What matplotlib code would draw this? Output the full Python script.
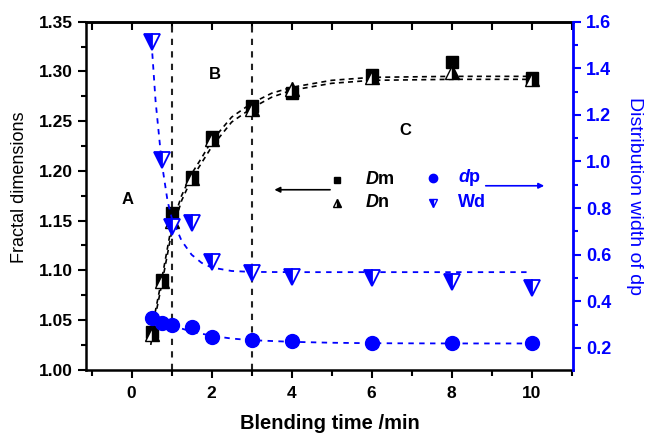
import matplotlib
matplotlib.use("Agg")
import matplotlib.pyplot as plt
from matplotlib.ticker import MultipleLocator, NullFormatter

plt.rcParams['font.family'] = ['Liberation Sans', 'DejaVu Sans']
plt.rcParams['mathtext.fontset'] = 'custom'
plt.rcParams['mathtext.it'] = 'Liberation Sans:italic:bold'
plt.rcParams['mathtext.rm'] = 'Liberation Sans:bold'

# measured points
t = [0.5, 0.75, 1, 1.5, 2, 3, 4, 6, 8, 10]
Dm = [1.038, 1.090, 1.158, 1.194, 1.234, 1.265, 1.278, 1.296, 1.309, 1.293]
Dn = [1.036, 1.089, 1.150, 1.193, 1.232, 1.262, 1.282, 1.294, 1.299, 1.292]
dp = [0.327, 0.306, 0.298, 0.291, 0.248, 0.234, 0.228, 0.220, 0.220, 0.220]
Wd = [1.514, 1.005, 0.720, 0.736, 0.570, 0.520, 0.506, 0.500, 0.483, 0.457]

# fitted curves
t_fit = [0.48, 0.6, 0.75, 1.0, 1.25, 1.5, 1.75, 2, 2.5, 3, 3.5, 4, 5, 6, 8, 10]
Dm_fit = [1.030, 1.060, 1.090, 1.145, 1.175, 1.197, 1.213, 1.230, 1.254, 1.268,
          1.278, 1.284, 1.291, 1.294, 1.295, 1.295]
Dn_fit = [1.025, 1.055, 1.085, 1.138, 1.170, 1.192, 1.208, 1.224, 1.249, 1.263,
          1.274, 1.281, 1.288, 1.291, 1.292, 1.292]
tw_fit = [0.5, 0.6, 0.75, 0.9, 1.0, 1.25, 1.5, 1.75, 2, 2.5, 3, 4, 6, 8, 10]
Wd_fit = [1.51, 1.26, 1.00, 0.83, 0.76, 0.66, 0.60, 0.565, 0.545, 0.530, 0.526,
          0.525, 0.525, 0.525, 0.525]
tp_fit = [0.5, 0.75, 1, 1.5, 2, 2.5, 3, 4, 5, 6, 8, 10]
dp_fit = [0.330, 0.310, 0.296, 0.270, 0.252, 0.240, 0.233, 0.226, 0.222, 0.220,
          0.219, 0.219]

blue = '#0000ff'

fig = plt.figure(figsize=(6.46, 4.33), dpi=100)
ax = fig.add_axes([0.133, 0.146, 0.754, 0.804])
ax2 = ax.twinx()

# region boundaries
for xv in [1, 3]:
    ax.axvline(xv, color='#222222', ls=(0, (3, 3)), lw=1.5, zorder=1)

ax.plot(t_fit, Dm_fit, color='black', ls=(0, (3, 2.5)), lw=1.2, zorder=2)
ax.plot(t_fit, Dn_fit, color='black', ls=(0, (3, 2.5)), lw=1.2, zorder=2)
ax.plot(t, Dm, 's', color='black', ms=9, zorder=3)
ax.plot(t, Dn, '^', color='black', ms=10, fillstyle='right',
        markerfacecoloralt='white', markeredgewidth=1.0, zorder=4)

ax2.plot(tw_fit, Wd_fit, color=blue, ls=(0, (3, 3)), lw=1.3, zorder=2)
ax2.plot(tp_fit, dp_fit, color=blue, ls=(0, (3, 3)), lw=1.3, zorder=2)
ax2.plot(t, Wd, 'v', color=blue, ms=11, fillstyle='left',
         markerfacecoloralt='white', markeredgewidth=1.3, zorder=3)
ax2.plot(t, dp, 'o', color=blue, ms=10, zorder=3)

ax.set_xlim(-1.14, 11.03)
ax.set_ylim(1.00, 1.35)
ax2.set_ylim(0.106, 1.6)

ax.xaxis.set_major_locator(MultipleLocator(2))
ax.xaxis.set_minor_locator(MultipleLocator(1))
ax.yaxis.set_major_locator(MultipleLocator(0.05))
ax.yaxis.set_minor_locator(MultipleLocator(0.025))
ax2.yaxis.set_major_locator(MultipleLocator(0.2))
ax2.yaxis.set_minor_locator(MultipleLocator(0.1))

ax.tick_params(axis='x', which='both', direction='out', labelsize=12.5, width=1.5)
ax.tick_params(axis='x', which='major', length=6, pad=6)
ax.tick_params(axis='x', which='minor', length=4)
ax.tick_params(axis='y', which='both', direction='out', labelsize=12.5, width=1.5)
ax.tick_params(axis='y', which='major', length=6)
ax.tick_params(axis='y', which='minor', length=3.5)
ax2.tick_params(axis='y', which='both', direction='out', colors=blue,
                labelsize=13, width=1.5)
ax2.tick_params(axis='y', which='major', length=6)
ax2.tick_params(axis='y', which='minor', length=3.5)
for lab in ax.get_xticklabels() + ax.get_yticklabels() + ax2.get_yticklabels():
    lab.set_fontweight('bold')

# top axis: ticks pointing inward, no labels
top = ax.secondary_xaxis('top')
top.xaxis.set_major_locator(MultipleLocator(1))
top.xaxis.set_major_formatter(NullFormatter())
top.tick_params(axis='x', direction='in', length=6, width=1.5)
top.spines['top'].set_linewidth(1.8)

for s in ['left', 'bottom', 'top']:
    ax.spines[s].set_linewidth(1.8)
ax.spines['right'].set_visible(False)
for s in ['left', 'bottom', 'top']:
    ax2.spines[s].set_visible(False)
ax2.spines['right'].set_color(blue)
ax2.spines['right'].set_linewidth(2.0)

ax.set_xlabel('Blending time /min', fontsize=14.5, fontweight='bold', labelpad=9)
ax.set_ylabel('Fractal dimensions', fontsize=13)
ax.yaxis.set_label_coords(-0.118, 0.523)
ax2.set_ylabel('Distribution width of dp', fontsize=14, color=blue,
               rotation=270, labelpad=23)

# region letters
ax.text(-0.1, 1.171, 'A', fontsize=12, fontweight='bold', ha='center', va='center')
ax.text(2.08, 1.297, 'B', fontsize=12, fontweight='bold', ha='center', va='center')
ax.text(6.83, 1.241, 'C', fontsize=12, fontweight='bold', ha='center', va='center')

# hand-made legend
ax.plot([5.13], [1.191], 's', color='black', ms=5)
ax.plot([5.13], [1.168], '^', color='black', ms=6, fillstyle='right',
        markerfacecoloralt='white')
ax.text(5.83, 1.191, r'$D$m', fontsize=13, fontweight='bold', va='center')
ax.text(5.83, 1.168, r'$D$n', fontsize=13, fontweight='bold', va='center')
ax.annotate('', xy=(3.5, 1.181), xytext=(5.03, 1.181),
            arrowprops=dict(arrowstyle='-|>', color='black', lw=1.2,
                            mutation_scale=8))
ax.plot([7.54], [1.193], 'o', color=blue, ms=6)
ax.plot([7.54], [1.168], 'v', color=blue, ms=6, fillstyle='left',
        markerfacecoloralt='white')
ax.text(8.16, 1.193, r'$d$p', fontsize=13, fontweight='bold', color=blue, va='center')
ax.text(8.16, 1.168, 'Wd', fontsize=13, fontweight='bold', color=blue, va='center')
ax.annotate('', xy=(10.38, 1.185), xytext=(8.78, 1.185),
            arrowprops=dict(arrowstyle='-|>', color=blue, lw=1.2,
                            mutation_scale=8))

fig.savefig('out.png', dpi=100)
